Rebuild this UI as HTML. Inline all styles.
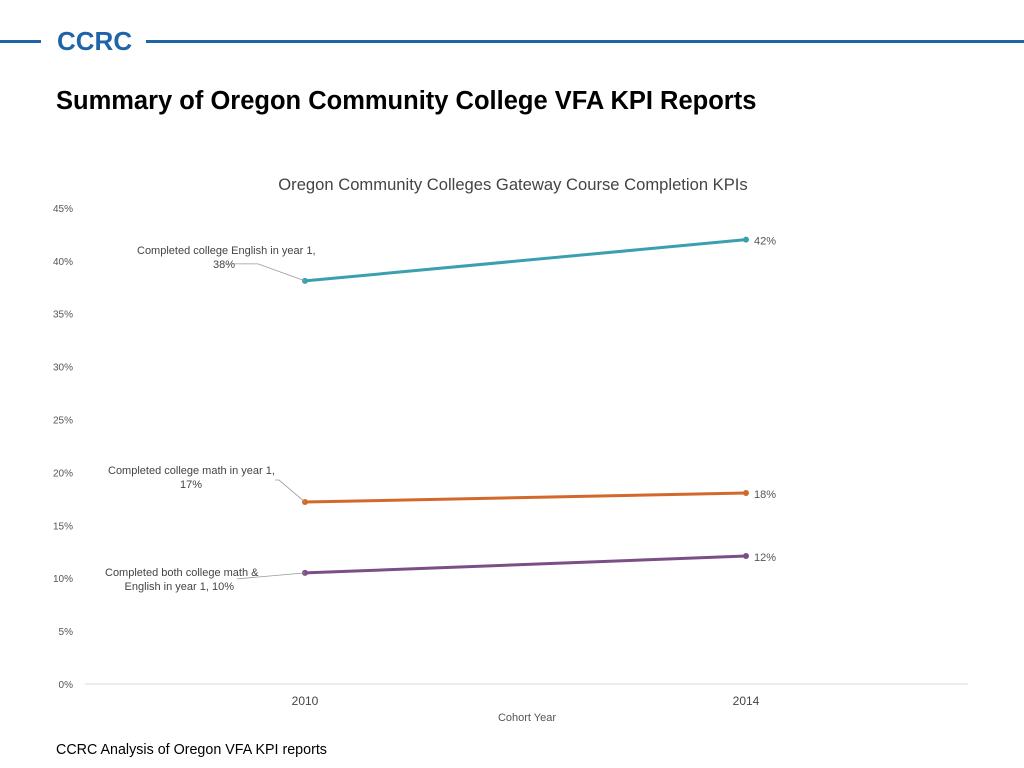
<!DOCTYPE html>
<html><head><meta charset="utf-8"><style>
body{margin:0;width:1024px;height:768px;background:#fff;overflow:hidden;position:relative;font-family:"Liberation Sans",sans-serif}
.hl{position:absolute;top:40px;height:3px;background:#1f64a6}
</style></head><body>
<div class="hl" style="left:0;width:41px"></div>
<div style="position:absolute;left:57px;top:26px;font-size:26px;font-weight:bold;color:#1f64a6;letter-spacing:0px">CCRC</div>
<div class="hl" style="left:146px;width:878px"></div>
<div style="position:absolute;left:56px;top:87px;font-size:25.5px;font-weight:bold;color:#000;white-space:nowrap">Summary of Oregon Community College VFA KPI Reports</div>
<div style="position:absolute;left:56px;top:742px;font-size:14.3px;color:#000">CCRC Analysis of Oregon VFA KPI reports</div>
<svg id="chart" width="1024" height="768" style="position:absolute;left:0;top:0" font-family="Liberation Sans, sans-serif"></svg>
<script>
const years=["2010","2014"];
const english=[38.1,42];
const math=[17.2,18.05];
const both=[10.5,12.1];
const ticks=[0,5,10,15,20,25,30,35,40,45];
const ns="http://www.w3.org/2000/svg";
const svg=document.getElementById('chart');
function y(v){return 684-v*10.58;}
function x(i){return 305+i*441;}
function el(t,a,txt){const e=document.createElementNS(ns,t);for(const k in a)e.setAttribute(k,a[k]);if(txt!==undefined)e.textContent=txt;svg.appendChild(e);return e;}
let t=el('text',{x:513,y:190,'text-anchor':'middle','font-size':16.6,fill:'#444'},'Oregon Community Colleges Gateway Course Completion KPIs');


ticks.forEach(v=>{const l=el('text',{x:73,y:y(v)+4,'text-anchor':'end','font-size':10,fill:'#555'},v+'%');

});
let ax=el('line',{x1:85,x2:968,y1:684,y2:684,stroke:'#d9d9d9','stroke-width':1});


years.forEach((yr,i)=>{const l=el('text',{x:x(i),y:705,'text-anchor':'middle','font-size':12,fill:'#444'},yr);

});
let xt=el('text',{x:527,y:721,'text-anchor':'middle','font-size':11,fill:'#555'},'Cohort Year');


const series=[
 {d:english,c:'#3aa0b0',n:'english',lab:['Completed college English in year 1,','38%'],lx:[137,235],ly:-27},
 {d:math,c:'#d2692b',n:'math',lab:['Completed college math in year 1,','17%'],lx:[108,202],ly:-28},
 {d:both,c:'#7b4f85',n:'both',lab:['Completed both college math &','English in year 1, 10%'],lx:[105,234],ly:3}
];
series.forEach(s=>{
 const ln=el('line',{x1:x(0),y1:y(s.d[0]),x2:x(1),y2:y(s.d[1]),stroke:s.c,'stroke-width':3});
 
 
 s.d.forEach((v,i)=>{const p=el('circle',{cx:x(i),cy:y(v),r:3,fill:s.c});
 
 });
 const v1=el('text',{x:x(1)+8,y:y(s.d[1])+5,'font-size':11,fill:'#555'},Math.round(s.d[1])+'%');
 
 
 const by=y(s.d[0])+s.ly;
 const a=el('text',{x:s.lx[0],y:by,'font-size':11,fill:'#444'},s.lab[0]);
 
 
 const b=el('text',{x:s.lx[1],y:by+14,'font-size':11,fill:'#444','text-anchor':'end'},s.lab[1]);
 
 
 const ll=s.n==='both'?[237,by+3]:(s.n==='english'?[225,by+10]:[275,by+6]);
 const lead=el('polyline',{points:ll[0]+','+ll[1]+' '+(s.n==='both'?ll[0]:(s.n==='english'?258:279))+','+(s.n==='both'?ll[1]:(s.n==='english'?by+10:by+6))+' '+x(0)+','+y(s.d[0]),fill:'none',stroke:'#999','stroke-width':0.8});
 
 
});
</script>
</body></html>
